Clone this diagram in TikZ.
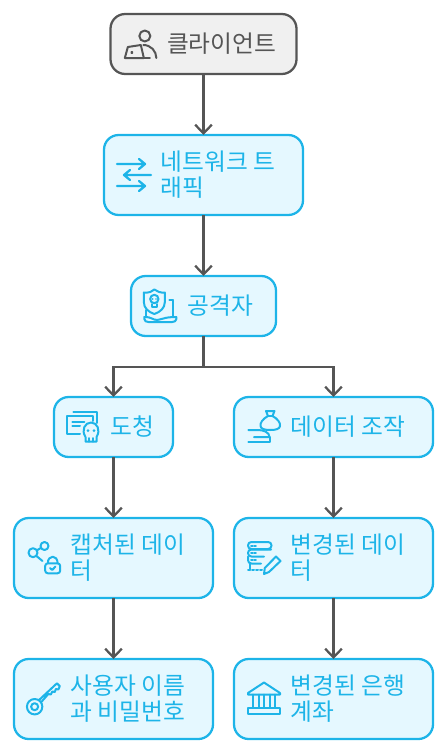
\documentclass[tikz,border=0pt]{standalone}
\usepackage{fontspec}
\newfontfamily\krfont{Noto Sans CJK KR}
\usetikzlibrary{arrows.meta, positioning}
\definecolor{skyline}{HTML}{1DB4E8}
\definecolor{skyfill}{HTML}{E5F8FF}
\definecolor{greyline}{HTML}{555555}
\definecolor{greyfill}{HTML}{F0F0F0}
\tikzset{
  box/.style = {rectangle, draw=skyline, fill=skyfill, line width=1.7pt, rounded corners=11pt, outer sep=0pt, inner sep=0pt, minimum width=149.25pt, minimum height=60pt},
  clientbox/.style = {box, draw=greyline, fill=greyfill},
  txt/.style = {anchor=west, align=left, inner sep=0pt, text=skyline, font=\krfont\fontsize{17.8}{19.5}\selectfont},
  arr/.style = {draw=greyline, line width=1.7pt, -{Straight Barb[length=6.5pt,width=12.5pt,line width=1.7pt]}},
  ico/.style = {draw=skyline, line width=1.5pt, line cap=round, line join=round},
  icoclient/.pic = {
    \begin{scope}[ico, draw=greyline]
    \draw (5,-8) circle (5.5);
    \draw (3.5,1) .. controls (11,1) and (16.5,7) .. (16.5,14);
    \draw (-12,3) -- (1,1) -- (4,14) -- (-15,14) -- cycle;
    \draw (4,14) -- (10,14);
    \draw (-8,8.5) circle (0.6);
    \end{scope}},
  icotraffic/.pic = {
    \begin{scope}[ico, line width=1.7pt]
    \draw (-17,-11) -- (11,-11) (5,-16) -- (11,-11) -- (5,-6);
    \draw (17,0) -- (-10,0) (-4,-5) -- (-10,0) -- (-4,5);
    \draw (-17,11) -- (11,11) (5,6) -- (11,11) -- (5,16);
    \end{scope}},
  icoattacker/.pic = {
    \begin{scope}[ico]
    \draw (-16.5,-13.5) .. controls (-11,-13) and (-8,-14.5) .. (-6,-16.5) .. controls (-3,-14.5) and (0,-13) .. (4.5,-13.5) -- (4.5,-4) .. controls (4.5,2) and (0,6) .. (-6,8) .. controls (-12,6) and (-16.5,2) .. (-16.5,-4) -- cycle;
    \draw (-6,-7) circle (4.2);
    \draw (-8.5,-2) -- (-8.5,1) -- (-3.5,1) -- (-3.5,-2);
    \fill[skyline] (-7.7,-7) circle (0.9) (-4.3,-7) circle (0.9);
    \draw (12.5,-6) -- (12.5,10.5);
    \draw (9,-6) -- (12.5,-6);
    \draw (-14,4) -- (-14,10.5);
    \draw (-16,11) .. controls (-8,11) and (-8,14) .. (-3,14) .. controls (2,14) and (2,11) .. (16,11) -- (16,13) .. controls (16,15) and (14,16) .. (12,16) -- (-12,16) .. controls (-14,16) and (-16,15) .. (-16,13) -- cycle;
    \end{scope}},
  icotap/.pic = {
    \begin{scope}[ico]
    \draw (-8.7,-15.3) -- (15.3,-15.3) -- (15.3,-4);
    \draw (-2,7) -- (-15.3,7) -- (-15.3,-11) -- (11.3,-11) -- (11.3,-6);
    \draw (-9.7,-5.3) -- (2.3,-5.3) (-9.7,-1) -- (-2,-1);
    \draw (3.5,10) .. controls (-1,3) and (3,-4.5) .. (9,-4.5) .. controls (15,-4.5) and (19,3) .. (14.5,10) -- (14.5,14.7) -- (3.5,14.7) -- cycle;
    \fill[skyline] (6,3.5) circle (1.5) (12,3.5) circle (1.5);
    \draw (7,11) -- (7,14.7) (11,11) -- (11,14.7);
    \end{scope}},
  icomanip/.pic = {
    \begin{scope}[ico]
    \draw (2,-16) -- (10.5,-16) -- (8.5,-11) .. controls (14,-8) and (16.5,-4) .. (16,-1) .. controls (15.5,2) and (12,3) .. (6.3,3) .. controls (0.5,3) and (-3,2) .. (-3.5,-1) .. controls (-4,-4) and (-1.5,-8) .. (4,-11) -- cycle;
    \draw (4,-11) -- (8.5,-11);
    \draw (-15.7,3) -- (-6,3) .. controls (-1,3) and (5.5,5) .. (5.5,10) -- (-10,10);
    \draw (-15.7,15) -- (5.5,15) -- (5.5,10);
    \end{scope}},
  icocaptured/.pic = {
    \begin{scope}[ico]
    \draw (-11,-5.3) circle (4.5);
    \draw (0.5,-12) circle (4);
    \draw (-7.2,-7.6) -- (-3,-10.2);
    \draw (-7.8,-2.2) -- (-1.5,3);
    \draw[rounded corners=2pt] (1.2,5.3) rectangle (16.2,15.3);
    \draw (3.8,5.3) .. controls (3.8,-3.5) and (13.6,-3.5) .. (13.6,5.3);
    \draw (6,10) -- (8.2,12) -- (11.5,8.5);
    \end{scope}},
  icokey/.pic = {
    \begin{scope}[ico]
    \draw (-8.7,7.7) circle (7.7);
    \draw (-8.7,7.7) circle (3.5);
    \draw (-4.5,1.2) -- (13.6,-15.7) -- (16.5,-12.8) -- (15,-9.5) -- (12.5,-10) -- (11.5,-7) -- (9,-7.5) -- (7.5,-4.5) -- (5,-5) -- (-2.2,3.2);
    \end{scope}},
  icochanged/.pic = {
    \begin{scope}[ico]
    \draw[rounded corners=2.5pt] (-16,-16) rectangle (7.5,-9);
    \draw[rounded corners=2.5pt] (0,-1.5) -- (-16,-1.5) -- (-16,-8.5) -- (7,-8.5);
    \draw[rounded corners=2.5pt] (-3,5.5) -- (-16,5.5) -- (-16,-1.5);
    \draw[dash pattern=on 1.5pt off 1.5pt] (-16,12) -- (-2,12);
    \draw (-14.5,5.5) -- (-14.5,12);
    \draw[line width=1.5pt, dash pattern=on 1.2pt off 1.2pt] (-13,-12.5) -- (-7,-12.5) (-13,-5) -- (-7,-5) (-13,2) -- (-7,2);
    \draw (12,-1.5) -- (16.5,3) -- (5,14) -- (0,16) -- (0.8,10) -- cycle;
    \end{scope}},
  icobank/.pic = {
    \begin{scope}[ico]
    \draw (0,-16.5) -- (16,-6) -- (16,-4.5) -- (-16,-4.5) -- (-16,-6) -- cycle;
    \draw (-11,-4.5) -- (-11,8) (-5.5,-4.5) -- (-5.5,8) (0,-4.5) -- (0,8) (5.5,-4.5) -- (5.5,8) (11,-4.5) -- (11,8);
    \draw (-16,8.5) rectangle (16,15);
    \end{scope}}
}

\begin{document}
\begin{tikzpicture}[x=0.75pt, y=-0.75pt, node distance=45.75pt]
\useasboundingbox (0,0) rectangle (447,753);
% Boxes
\node[clientbox, minimum width=139.5pt, minimum height=45pt] (client) at (203.5,44) {};
\node[box, below=of client] (traffic) {};
\node[box, below=of traffic, minimum width=108.75pt, minimum height=45pt] (attacker) {};

% Left branch
\node[box, below=of attacker, xshift=-67.5pt, minimum width=89.25pt, minimum height=45pt] (tap) {};
\node[box, below=of tap] (captured) {};
\node[box, below=of captured] (account) {};

% Right branch
\node[box, below=of attacker, xshift=97.5pt, minimum height=45pt] (manip) {};
\node[box, below=of manip] (changed) {};
\node[box, below=of changed] (bank) {};

% Labels
\node[txt, text=greyline] (clienttxt) at ([xshift=42.2pt]client.west) {클라이언트};
\node[txt] (traffictxt) at ([xshift=42.2pt]traffic.west) {네트워크 트\\래픽};
\node[txt] (attackertxt) at ([xshift=42.2pt]attacker.west) {공격자};
\node[txt] (taptxt) at ([xshift=42.2pt]tap.west) {도청};
\node[txt] (maniptxt) at ([xshift=42.2pt]manip.west) {데이터 조작};
\node[txt] (capturedtxt) at ([xshift=42.2pt]captured.west) {캡처된 데이\\터};
\node[txt] (changedtxt) at ([xshift=42.2pt]changed.west) {변경된 데이\\터};
\node[txt] (accounttxt) at ([xshift=42.2pt]account.west) {사용자 이름\\과 비밀번호};
\node[txt] (banktxt) at ([xshift=42.2pt]bank.west) {변경된 은행\\계좌};

% Icons
\pic at ([xshift=22pt]client.west) {icoclient};
\pic at ([xshift=22.5pt]traffic.west) {icotraffic};
\pic at ([xshift=22pt]attacker.west) {icoattacker};
\pic at ([xshift=21pt]tap.west) {icotap};
\pic at ([xshift=22.5pt]manip.west) {icomanip};
\pic at ([xshift=22.5pt]captured.west) {icocaptured};
\pic at ([xshift=22.5pt]changed.west) {icochanged};
\pic at ([xshift=22pt]account.west) {icokey};
\pic at ([xshift=22.5pt]bank.west) {icobank};

% ----- ARROWS -----
\draw[arr] (client.south) -- (traffic.north);
\draw[arr] (traffic.south) -- (attacker.north);
\draw[arr] (attacker.south) -- ++(0,31) -| (tap.north);
\draw[arr] (attacker.south) -- ++(0,31) -| (manip.north);
\draw[arr] (tap.south) -- (captured.north);
\draw[arr] (captured.south) -- (account.north);
\draw[arr] (manip.south) -- (changed.north);
\draw[arr] (changed.south) -- (bank.north);

\end{tikzpicture}
\end{document}
